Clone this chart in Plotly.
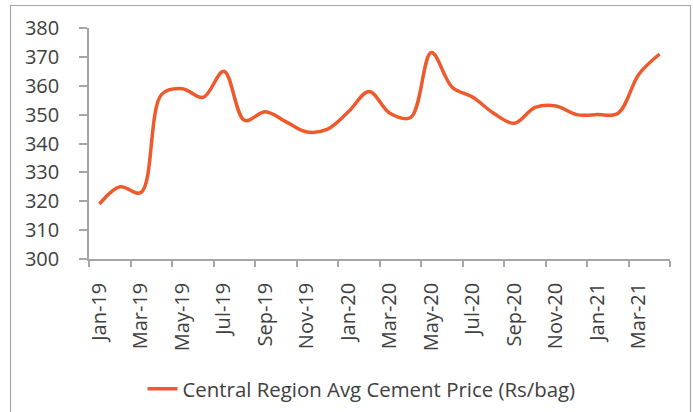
import plotly.graph_objects as go

months = ["Jan-19", "Feb-19", "Mar-19", "Apr-19", "May-19", "Jun-19", "Jul-19", "Aug-19",
          "Sep-19", "Oct-19", "Nov-19", "Dec-19", "Jan-20", "Feb-20", "Mar-20", "Apr-20",
          "May-20", "Jun-20", "Jul-20", "Aug-20", "Sep-20", "Oct-20", "Nov-20", "Dec-20",
          "Jan-21", "Feb-21", "Mar-21", "Apr-21"]
price = [319, 325, 323, 357, 359, 356, 365, 348,
         351, 347.5, 344, 345, 351, 358, 350.5, 349,
         371.5, 359.5, 356, 350.5, 347, 352.5, 353, 350,
         350, 350.5, 364, 371]
series_name = "Central Region Avg Cement Price (Rs/bag)"

LINE = "#EE5A2C"
AX = "#A6A6A6"
TXT = "#404040"
FONT = "Open Sans"

fig = go.Figure()
fig.add_trace(go.Scatter(
    x=months, y=price, mode="lines", name=series_name,
    line=dict(color=LINE, width=3.5, shape="spline", smoothing=1),
))

fig.update_layout(
    width=693, height=412,
    margin=dict(l=89, r=23, t=28, b=153, autoexpand=False),
    paper_bgcolor="white", plot_bgcolor="white",
    font=dict(family=FONT, size=20, color=TXT),
    showlegend=True,
    legend=dict(orientation="h", xref="container", yref="container",
                x=361.5 / 693, xanchor="center", y=1 - 389 / 412, yanchor="middle",
                font=dict(family=FONT, size=20.4, color=TXT), bgcolor="rgba(0,0,0,0)"),
    xaxis=dict(
        type="category", range=[-0.5, 27.5], dtick=2, tickson="boundaries",
        tickangle=-90, ticks="outside", ticklen=6, tickcolor=AX, tickwidth=1.5,
        showline=True, linecolor=AX, linewidth=1.5, showgrid=False, zeroline=False,
        ticklabelstandoff=14, automargin=False,
        tickfont=dict(family=FONT, size=20, color=TXT),
    ),
    yaxis=dict(
        range=[300, 380], dtick=10, tick0=300,
        ticks="outside", ticklen=8, tickcolor=AX, tickwidth=1.5,
        showline=True, linecolor=AX, linewidth=1.5, showgrid=False, zeroline=False,
        ticklabelstandoff=16, automargin=False,
        tickfont=dict(family=FONT, size=20, color=TXT),
    ),
    shapes=[dict(type="rect", xref="paper", yref="paper",
                 x0=(10.5 - 89) / 581, x1=(690.5 - 89) / 581,
                 y0=(259 - 420) / 231, y1=(259 - 5.5) / 231,
                 line=dict(color="#A6A6A6", width=1.2), fillcolor="rgba(0,0,0,0)", layer="below")],
)

fig.write_html("out.html", config={"displayModeBar": False},
               post_script="document.body.style.margin='0';document.body.style.overflow='hidden';")
